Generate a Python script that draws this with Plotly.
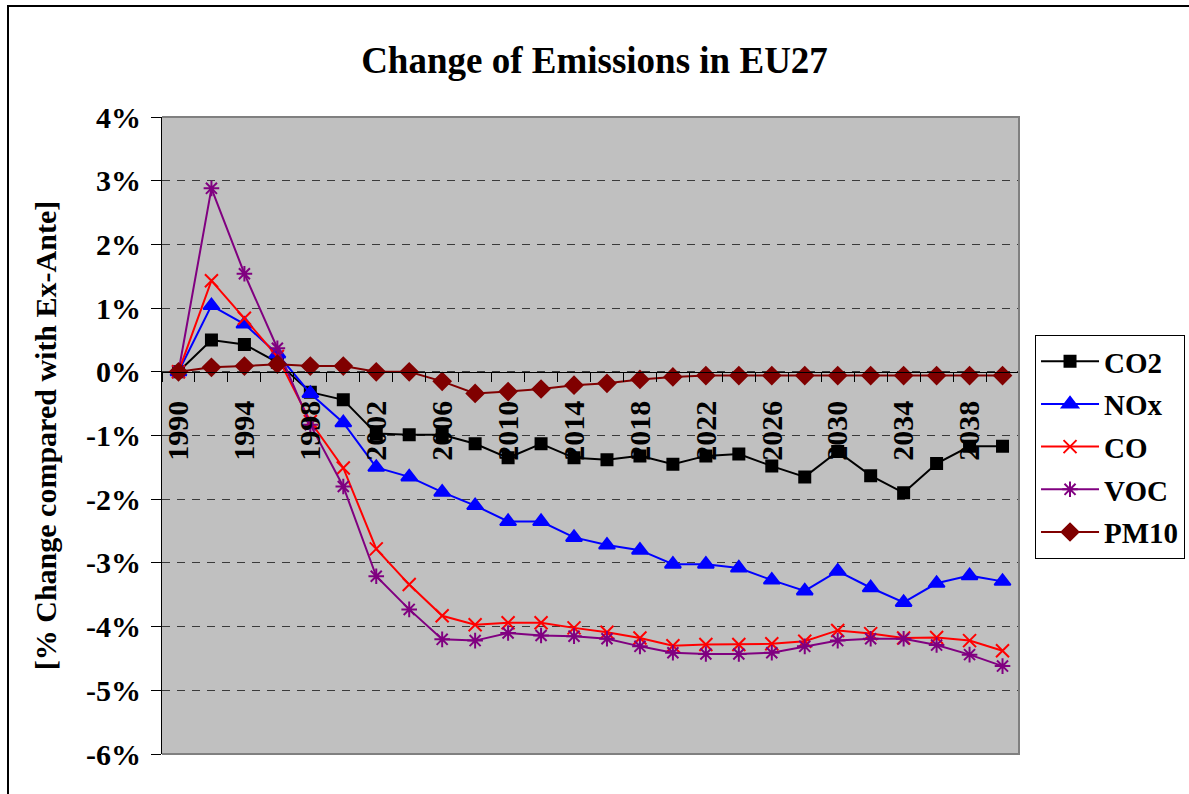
import plotly.graph_objects as go

years = list(range(1990, 2041, 2))
tick_years = years[::2]
tick_labels = [f"<b>{y}</b>" for y in tick_years]
boundaries = [y - 1 for y in years] + [2041]

co2 = [0.0, 0.50, 0.43, 0.15, -0.32, -0.44, -0.97, -0.99, -0.99, -1.13, -1.35, -1.13, -1.35,
       -1.38, -1.32, -1.45, -1.32, -1.29, -1.48, -1.65, -1.25, -1.63, -1.90, -1.44, -1.17, -1.17]
nox = [0.0, 1.04, 0.75, 0.28, -0.34, -0.80, -1.50, -1.65, -1.89, -2.10, -2.35, -2.35, -2.60,
       -2.72, -2.80, -3.02, -3.02, -3.08, -3.27, -3.44, -3.13, -3.39, -3.62, -3.32, -3.20, -3.29]
co = [0.0, 1.43, 0.84, 0.24, -0.78, -1.51, -2.78, -3.34, -3.83, -3.97, -3.94, -3.94, -4.02,
      -4.09, -4.18, -4.30, -4.28, -4.28, -4.27, -4.23, -4.06, -4.11, -4.18, -4.17, -4.22, -4.38]
voc = [0.0, 2.88, 1.54, 0.37, -0.83, -1.80, -3.21, -3.73, -4.20, -4.22, -4.10, -4.14, -4.15,
       -4.19, -4.31, -4.41, -4.43, -4.43, -4.41, -4.31, -4.22, -4.19, -4.19, -4.29, -4.44, -4.62]
pm10 = [0.0, 0.07, 0.09, 0.12, 0.09, 0.09, 0.0, 0.0, -0.15, -0.34, -0.31, -0.27, -0.21,
        -0.18, -0.12, -0.08, -0.06, -0.06, -0.06, -0.06, -0.06, -0.06, -0.06, -0.06, -0.06, -0.06]

y_ticks = [4, 3, 2, 1, 0, -1, -2, -3, -4, -5, -6]
y_labels = [f"<b>{v}%</b>" for v in y_ticks]

series = [
    ("CO2", co2, "#000000", "square", 11),
    ("NOx", nox, "#0000FF", "triangle-up", 14),
    ("CO", co, "#FF0000", "x-thin-open", 13),
    ("VOC", voc, "#800080", "asterisk-open", 13),
    ("PM10", pm10, "#800000", "diamond", 13),
]

FONT = "Liberation Serif, Times New Roman, serif"
fig = go.Figure()
for name, vals, color, sym, size in series:
    fig.add_trace(go.Scatter(
        x=years, y=vals, name=f"<b>{name}</b>", mode="lines+markers",
        legendgroup=name,
        line=dict(color=color, width=2),
        marker=dict(symbol=sym, size=size, color=color,
                    line=dict(color=color, width=2)),
    ))

fig.update_layout(
    width=1189, height=794,
    margin=dict(l=162, r=170, t=117, b=40, autoexpand=False),
    paper_bgcolor="white", plot_bgcolor="#C0C0C0",
    font=dict(family=FONT, color="black"),
    title=dict(text="<b>Change of Emissions in EU27</b>", x=0.5, xref="container",
               xanchor="center", y=1 - 60 / 794, yref="container", yanchor="middle",
               font=dict(size=37, family=FONT, color="black")),
    legend=dict(x=1.0187, xanchor="left", y=0.658, yanchor="top",
                bgcolor="white", bordercolor="black", borderwidth=1,
                font=dict(size=29, family=FONT, color="black"),
                itemwidth=58, tracegroupgap=2),
    showlegend=True,
)

fig.update_xaxes(
    range=[1989, 2041], anchor="free", position=0.6,
    showline=True, linecolor="black", linewidth=1,
    showgrid=False, zeroline=False,
    tickmode="array", tickvals=tick_years, ticktext=tick_labels,
    ticks="outside", ticklen=0, tickangle=-90,
    ticklabelstandoff=16,
    tickfont=dict(size=30, family=FONT, color="black"),
    minor=dict(tickvals=boundaries, ticks="outside", ticklen=9,
               tickcolor="black", tickwidth=1, showgrid=False),
)

fig.update_yaxes(
    range=[-6, 4], tickmode="array", tickvals=y_ticks, ticktext=y_labels,
    showline=True, linecolor="black", linewidth=1,
    ticks="outside", ticklen=10, tickcolor="black",
    ticklabelstandoff=4,
    showgrid=True, gridcolor="#3a3a3a", gridwidth=1, griddash="8px,7px",
    zeroline=False,
    tickfont=dict(size=30, family=FONT, color="black"),
    title=dict(text="<b>[% Change compared with Ex-Ante]</b>", standoff=20,
               font=dict(size=30, family=FONT, color="black")),
)

# plot-area frame (top, right, bottom) in grey
fig.add_shape(type="path", xref="paper", yref="paper",
              path="M 0,1 L 1,1 L 1,0 L 0,0",
              line=dict(color="#808080", width=2), layer="above")
# outer chart frame
fig.add_shape(type="rect", xref="paper", yref="paper",
              x0=(8 - 162) / 857, x1=1.3, y0=-0.2, y1=(754 - 6) / 637,
              line=dict(color="black", width=2), fillcolor="rgba(0,0,0,0)", layer="above")

fig.write_html("out.html", config={"displayModeBar": False},
               post_script="document.body.style.margin='0';")
